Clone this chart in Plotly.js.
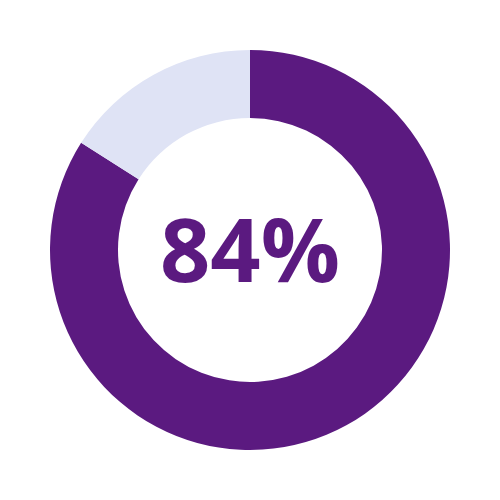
<!DOCTYPE html>
<html><head><meta charset="utf-8">
<script src="https://cdn.plot.ly/plotly-3.0.1.min.js"></script>
<style>html,body{margin:0;padding:0;background:#fff}</style>
</head><body>
<div id="chart" style="width:500px;height:500px"></div>
<script>
const labels = ["Yes", "No"];
const values = [84, 16];
const centerLabel = "84%";
const colors = ["#5B1A80", "#DFE3F5"];

Plotly.newPlot("chart", [{
  type: "pie",
  labels: labels,
  values: values,
  hole: 0.66,
  sort: false,
  direction: "clockwise",
  rotation: 0,
  marker: {colors: colors, line: {width: 0}},
  textinfo: "none",
  hoverinfo: "none",
  domain: {x: [0.1, 0.9], y: [0.1, 0.9]}
}], {
  width: 500, height: 500,
  margin: {l: 0, r: 0, t: 0, b: 0},
  showlegend: false,
  paper_bgcolor: "#fff",
  annotations: [{
    text: centerLabel, x: 0.5, y: 0.5, xref: "paper", yref: "paper",
    showarrow: false, xanchor: "center", yanchor: "middle", yshift: 2,
    font: {family: "Open Sans", size: 88, color: "#5B1A80", weight: "bold"}
  }]
}, {staticPlot: true});
</script>
</body></html>
